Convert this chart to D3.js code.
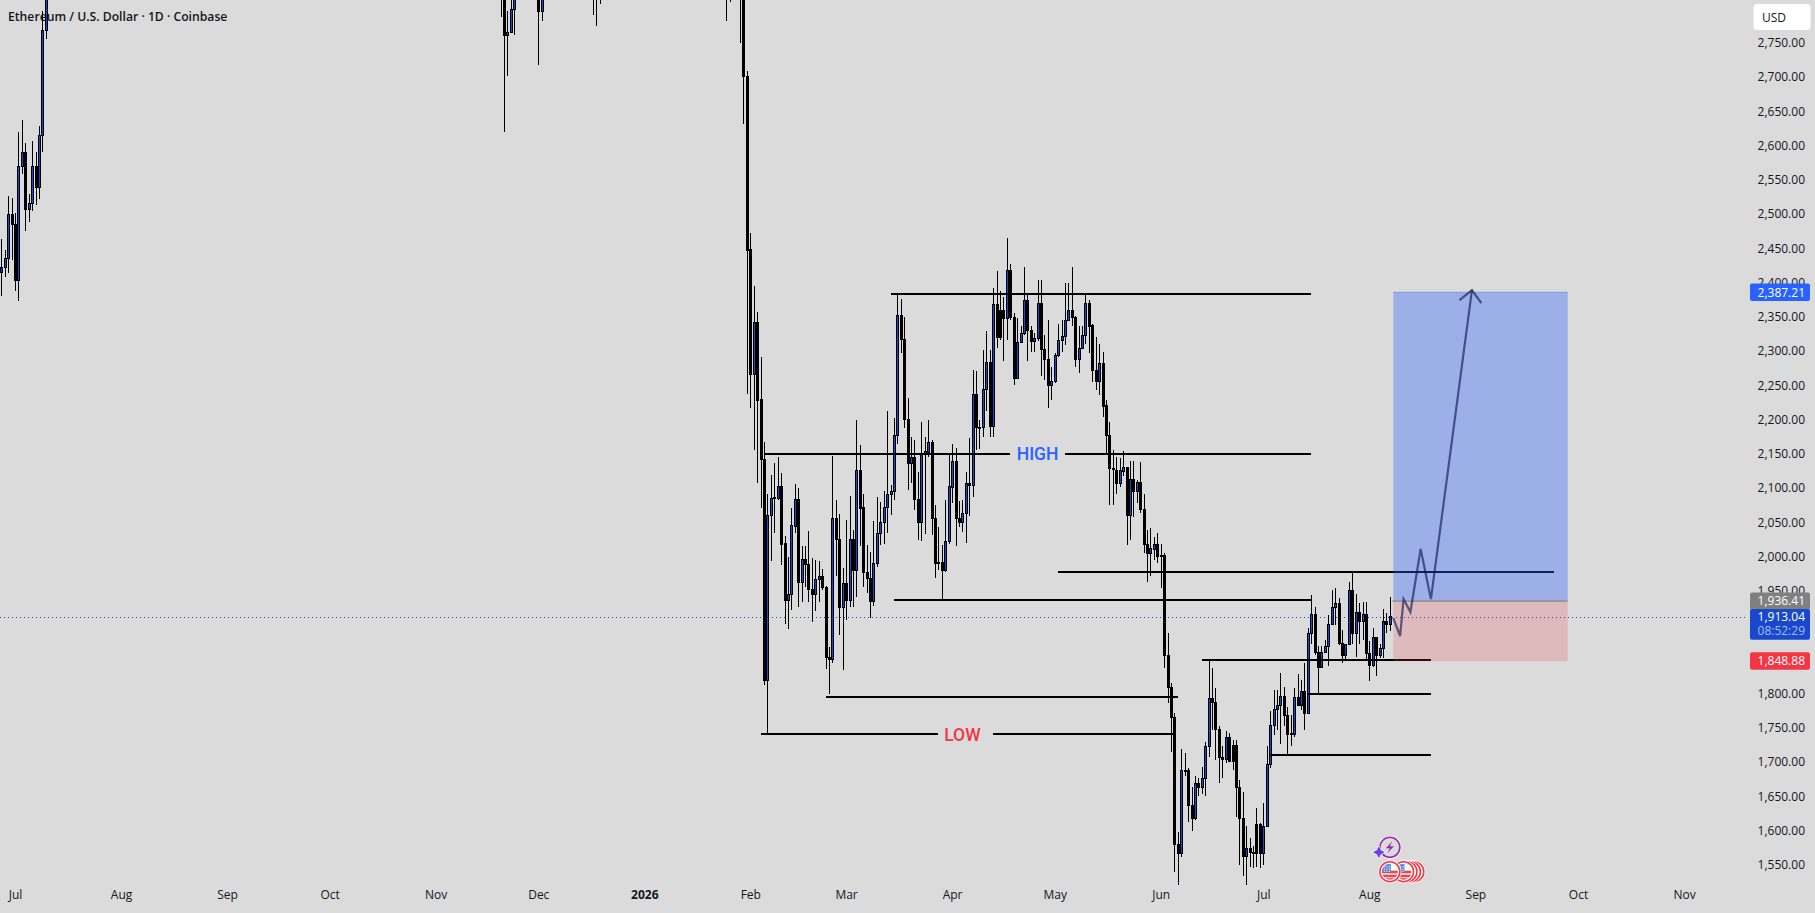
<!DOCTYPE html>
<html>
<head>
<meta charset="utf-8">
<title>ETHUSD 1D</title>
<script src="https://cdn.jsdelivr.net/npm/d3@7"></script>
<style>
  html, body { margin: 0; padding: 0; background: #dbdbdb; overflow: hidden; }
  text { font-family: "Open Sans", sans-serif; fill: #131722; }
</style>
</head>
<body>
<div id="chart"></div>
<script>
// DATA
//=====================
var title = "Ethereum / U.S. Dollar \u00b7 1D \u00b7 Coinbase";

var monthTicks = ["2025-07-01","2025-08-01","2025-09-01","2025-10-01","2025-11-01","2025-12-01","2026-01-01",
  "2026-02-01","2026-03-01","2026-04-01","2026-05-01","2026-06-01","2026-07-01","2026-08-01","2026-09-01","2026-10-01","2026-11-01"];
var priceTicks = [2750,2700,2650,2600,2550,2500,2450,2400,2350,2300,2250,2200,2150,2100,2050,2000,1950,1900,1850,1800,1750,1700,1650,1600,1550];

// only the days that reach into the picture, everything else sits above the top edge
var candleDates = [].concat(
  d3.utcDay.range(new Date("2025-06-27"), new Date("2025-07-11")),
  ["2025-11-20","2025-11-21","2025-11-22","2025-11-23","2025-11-24","2025-12-01","2025-12-02",
   "2025-12-17","2025-12-18","2025-12-19","2026-01-25","2026-01-26"].map(function(d) { return new Date(d); }),
  d3.utcDay.range(new Date("2026-01-29"), new Date("2026-08-08"))
);

var opens = [2416,2422,2436,2500,2485,2403,2570,2590,2507,2516,2570,2540,2615,2768,
  2860,2900,2762,2766,2800,2850,2797,2900,2880,2900,2900,2860,
  2880,2830,2701,2449,2266,2343,2230,2142,1820,2060,
  2087,2086,2103,2020,1937,1945,2045,2084,1963,1996,
  1989,1953,1946,1967,1972,1955,1854,1850,2056,2025,
  1927,1962,1937,2025,1981,2126,2072,1977,1968,1935,
  1991,2035,2051,2072,2091,2095,2177,2352,2317,2201,
  2136,2145,2084,2051,2151,2153,2167,2057,1992,1992,
  1981,2023,2101,2139,2056,2051,2063,2108,2105,2238,
  2189,2189,2244,2284,2190,2369,2360,2360,2348,2418,
  2349,2261,2313,2326,2374,2330,2314,2319,2370,2303,
  2288,2250,2256,2294,2316,2322,2345,2360,2350,2289,
  2305,2324,2370,2338,2273,2256,2282,2221,2178,2129,
  2127,2108,2125,2130,2061,2113,2095,2109,2069,2019,
  2005,2011,2018,2002,2002,1856,1809,1766,1581,1567,
  1688,1688,1637,1618,1670,1663,1677,1723,1793,1788,
  1748,1707,1704,1737,1725,1725,1663,1618,1563,1574,
  1569,1609,1609,1567,1607,1697,1754,1777,1783,1796,
  1768,1742,1741,1795,1783,1803,1772,1889,1916,1861,
  1839,1860,1869,1901,1927,1932,1874,1856,1872,1951,
  1889,1919,1906,1916,1859,1841,1882,1856,1866,1906,
  1901];

var highs = [2464,2448,2526,2523,2502,2620,2638,2603,2530,2606,2590,2629,2797,2995,
  2900,2920,2796,2830,2860,2870,2850,2920,2930,2930,2920,2880,
  2900,2850,2709,2472,2395,2357,2291,2167,2091,2119,
  2136,2146,2122,2030,1999,2071,2106,2100,2015,2015,
  2037,1998,1995,1994,1982,1957,1868,2147,2083,2062,
  1983,2053,2089,2039,2200,2163,2092,2017,2007,2052,
  2087,2079,2095,2212,2104,2202,2382,2376,2349,2232,
  2175,2170,2124,2197,2175,2199,2170,2075,2043,2017,
  2083,2151,2165,2158,2081,2083,2123,2173,2272,2271,
  2200,2301,2329,2302,2392,2417,2387,2379,2465,2427,
  2355,2348,2336,2423,2382,2336,2326,2404,2403,2323,
  2346,2277,2297,2340,2345,2399,2399,2423,2351,2336,
  2336,2383,2375,2339,2321,2311,2299,2229,2196,2156,
  2145,2144,2154,2131,2139,2139,2112,2138,2092,2039,
  2041,2029,2034,2019,2005,1888,1816,1771,1598,1719,
  1713,1692,1664,1679,1676,1693,1730,1848,1837,1808,
  1752,1723,1746,1742,1732,1732,1674,1657,1606,1589,
  1577,1633,1611,1640,1723,1774,1805,1805,1830,1810,
  1781,1769,1808,1829,1820,1844,1895,1944,1926,1869,
  1869,1878,1915,1951,1954,1939,1893,1873,1963,1977,
  1946,1932,1934,1934,1876,1895,1883,1873,1924,1917,
  1941];

var lows = [2381,2408,2414,2433,2387,2373,2558,2475,2488,2504,2513,2522,2590,2756,
  2787,2620,2702,2764,2762,2717,2782,2790,2774,2807,2782,2809,
  2750,2632,2238,2217,2156,2108,2071,1813,1741,1993,
  2034,2083,1987,1901,1894,1922,2034,1927,1934,1956,
  1934,1905,1921,1933,1951,1836,1799,1845,1971,1886,
  1835,1908,1927,1926,1941,2015,1955,1947,1911,1928,
  1985,2017,2018,2034,2061,2083,2165,2297,2187,2097,
  2107,2068,2024,2022,2033,2145,2032,1969,1981,1936,
  1978,2019,2078,2015,2043,2036,2020,2059,2087,2156,
  2157,2175,2212,2175,2174,2304,2316,2285,2316,2346,
  2251,2259,2312,2323,2285,2299,2299,2314,2263,2258,
  2217,2229,2253,2292,2299,2309,2344,2337,2277,2268,
  2304,2310,2297,2255,2243,2236,2204,2151,2075,2075,
  2091,2102,2117,2017,2024,2058,2078,2063,2005,1963,
  1972,1995,1990,1954,1837,1786,1714,1539,1521,1562,
  1679,1612,1600,1615,1650,1654,1651,1708,1747,1703,
  1669,1676,1698,1701,1688,1620,1550,1533,1521,1547,
  1545,1547,1546,1550,1606,1691,1740,1747,1727,1752,
  1712,1723,1736,1782,1776,1747,1771,1873,1856,1800,
  1837,1860,1840,1900,1900,1871,1845,1850,1871,1873,
  1854,1873,1878,1847,1819,1839,1826,1852,1852,1888,
  1892];

var closes = [2423,2436,2500,2485,2403,2570,2590,2507,2516,2570,2540,2615,2768,2950,
  2880,2762,2766,2800,2840,2797,2830,2880,2900,2910,2860,2840,
  2830,2701,2448,2266,2343,2229,2142,1820,2060,2085,
  2085,2103,2019,1937,1945,2046,2084,1963,1996,1989,
  1953,1946,1967,1972,1955,1854,1850,2056,2026,1927,
  1962,1937,2025,1981,2126,2071,1977,1968,1935,1991,
  2035,2050,2072,2091,2095,2177,2352,2317,2201,2136,
  2145,2084,2051,2151,2154,2167,2057,1990,1991,1981,
  2023,2103,2139,2056,2051,2063,2107,2105,2238,2189,
  2188,2244,2284,2190,2369,2321,2321,2348,2418,2349,
  2261,2313,2326,2374,2330,2314,2319,2370,2303,2288,
  2250,2256,2294,2316,2322,2345,2360,2349,2289,2305,
  2324,2370,2337,2273,2256,2282,2220,2178,2129,2128,
  2108,2126,2130,2061,2113,2095,2109,2069,2019,2005,
  2012,2018,2001,2001,1856,1809,1766,1581,1567,1688,
  1687,1637,1618,1670,1663,1677,1723,1793,1788,1748,
  1707,1704,1736,1702,1702,1663,1618,1563,1574,1569,
  1567,1567,1567,1607,1697,1754,1777,1783,1796,1768,
  1741,1741,1795,1783,1803,1772,1889,1916,1861,1839,
  1860,1869,1901,1927,1932,1874,1856,1872,1951,1889,
  1919,1906,1916,1859,1841,1882,1856,1866,1906,1901,
  1913];

// drawn levels: price, first day, last day
var levelPrices = [2383.3, 2149.7, 2149.7, 1936.4, 1977.4, 1849.4, 1800, 1710.3, 1795.4, 1740.5, 1740.5];
var levelStarts = ["2026-03-14","2026-02-05","2026-05-04","2026-03-15","2026-05-02","2026-06-13","2026-07-14","2026-07-03","2026-02-23","2026-02-04","2026-04-13"];
var levelEnds   = ["2026-07-15","2026-04-18","2026-07-15","2026-07-15","2026-09-24","2026-08-19","2026-08-19","2026-08-19","2026-06-06","2026-03-28","2026-06-05"];

var levelNames = ["HIGH", "LOW"];
var levelNameDates = ["2026-04-26", "2026-04-04"];
var levelNamePrices = [2149.7, 1740.5];

var lastPrice = 1913.04;
var countdown = "08:52:29";
var entryPrice = 1936.41;
var targetPrice = 2387.21;
var stopPrice = 1848.88;
var positionStart = "2026-08-08";
var positionEnd = "2026-09-28";

var pathDates  = ["2026-08-08","2026-08-10","2026-08-11","2026-08-13","2026-08-16","2026-08-19","2026-08-31"];
var pathPrices = [1910, 1884, 1938, 1919, 2011, 1938, 2389];

var flagDates = ["2026-08-14","2026-08-13","2026-08-12","2026-08-11","2026-08-07"];

// SCALES
//=====================
var svgWidth = 1815;
var svgHeight = 913;

var xScale = d3.scaleUtc()
  .domain([new Date("2025-07-01"), new Date("2026-11-01")])
  .range([15, 1684]);

var yScale = d3.scaleLinear()
  .domain([2750, 1550])
  .range([42.8, 864.8]);

function dayX(d) { return xScale(new Date(d)); }

// the position tool and its tags sit a pixel under the candle scale in the picture
function positionY(p) { return yScale(p) + 1; }

var svg = d3.select("#chart")
  .append("svg")
  .attr("width", svgWidth)
  .attr("height", svgHeight)
  .style("display", "block");

svg.append("rect")
  .attr("width", svgWidth)
  .attr("height", svgHeight)
  .attr("fill", "#dbdbdb");

// AXES
//=====================
var yAxis = d3.axisRight(yScale)
  .tickValues(priceTicks)
  .tickSize(0)
  .tickPadding(0)
  .tickFormat(d3.format(",.2f"));

var yAxisGroup = svg.append("g")
  .attr("transform", "translate(1805, 0)")
  .call(yAxis);
yAxisGroup.select(".domain").remove();
yAxisGroup.selectAll("text")
  .attr("text-anchor", "end")
  .attr("font-size", 12)
  .style("font-family", '"Open Sans", sans-serif');

var xAxis = d3.axisBottom(xScale)
  .tickValues(monthTicks.map(function(d) { return new Date(d); }))
  .tickSize(0)
  .tickPadding(0)
  .tickFormat(function(d) {
    return d.getUTCMonth() === 0 ? String(d.getUTCFullYear()) : d3.utcFormat("%b")(d);
  });

var xAxisGroup = svg.append("g")
  .attr("transform", "translate(0, 890)")
  .call(xAxis);
xAxisGroup.select(".domain").remove();
xAxisGroup.selectAll("text")
  .attr("font-size", 12)
  .attr("font-weight", function(d) { return d.getUTCMonth() === 0 ? 700 : 400; })
  .style("font-family", '"Open Sans", sans-serif');

// CURRENT PRICE LINE
//=====================
svg.append("line")
  .attr("x1", 0)
  .attr("x2", 1748)
  .attr("y1", Math.ceil(yScale(lastPrice)) + 0.5)
  .attr("y2", Math.ceil(yScale(lastPrice)) + 0.5)
  .attr("stroke", "#1848cc")
  .attr("stroke-width", 1)
  .attr("stroke-dasharray", "1 3");

// CANDLES
//=====================
var candles = candleDates.map(function(d, i) {
  return { date: d, open: opens[i], high: highs[i], low: lows[i], close: closes[i] };
});

var candleGroup = svg.append("g").attr("shape-rendering", "crispEdges");

var candle = candleGroup.selectAll("g")
  .data(candles)
  .enter()
  .append("g")
  .attr("transform", function(d) { return "translate(" + Math.round(xScale(d.date)) + ",0)"; });

candle.append("line")
  .attr("x1", 0.5)
  .attr("x2", 0.5)
  .attr("y1", function(d) { return yScale(d.high); })
  .attr("y2", function(d) { return yScale(d.low); })
  .attr("stroke", "#000");

candle.append("rect")
  .attr("x", -0.5)
  .attr("width", 2)
  .attr("y", function(d) { return Math.round(yScale(Math.max(d.open, d.close))) + 0.5; })
  .attr("height", function(d) {
    return Math.max(1, Math.round(yScale(Math.min(d.open, d.close))) - Math.round(yScale(Math.max(d.open, d.close))));
  })
  .attr("fill", function(d) { return d.close >= d.open ? "#1848cc" : "#000"; })
  .attr("stroke", "#000");

// LEVELS
//=====================
var levelIndex = d3.range(levelPrices.length);

svg.append("g")
  .selectAll("line")
  .data(levelIndex)
  .enter()
  .append("line")
  .attr("x1", function(i) { return dayX(levelStarts[i]); })
  .attr("x2", function(i) { return dayX(levelEnds[i]); })
  .attr("y1", function(i) { return Math.round(yScale(levelPrices[i])); })
  .attr("y2", function(i) { return Math.round(yScale(levelPrices[i])); })
  .attr("stroke", "#000")
  .attr("stroke-width", 2)
  .attr("shape-rendering", "crispEdges");

svg.append("g")
  .selectAll("text")
  .data(levelNames)
  .enter()
  .append("text")
  .attr("x", function(d, i) { return dayX(levelNameDates[i]); })
  .attr("y", function(d, i) { return yScale(levelNamePrices[i]); })
  .attr("dy", "0.36em")
  .attr("text-anchor", "middle")
  .attr("font-size", 17.5)
  .attr("font-weight", 500)
  .style("font-family", "Roboto, sans-serif")
  .style("fill", function(d) { return d === "HIGH" ? "#2962ff" : "#f23645"; })
  .text(function(d) { return d; });

// LONG POSITION
//=====================
var posX0 = dayX(positionStart);
var posX1 = dayX(positionEnd);

svg.append("rect")
  .attr("x", posX0)
  .attr("width", posX1 - posX0)
  .attr("y", positionY(targetPrice))
  .attr("height", positionY(entryPrice) - positionY(targetPrice))
  .attr("fill", "#2962ff")
  .attr("fill-opacity", 0.35);

svg.append("rect")
  .attr("x", posX0)
  .attr("width", posX1 - posX0)
  .attr("y", positionY(entryPrice))
  .attr("height", positionY(stopPrice) - positionY(entryPrice))
  .attr("fill", "#f23645")
  .attr("fill-opacity", 0.2);

svg.append("line")
  .attr("x1", posX0)
  .attr("x2", posX1)
  .attr("y1", positionY(targetPrice))
  .attr("y2", positionY(targetPrice))
  .attr("stroke", "#2962ff")
  .attr("stroke-opacity", 0.4)
  .attr("stroke-width", 1);

svg.append("line")
  .attr("x1", posX0 - 1)
  .attr("x2", posX1)
  .attr("y1", positionY(entryPrice))
  .attr("y2", positionY(entryPrice))
  .attr("stroke", "#787b86")
  .attr("stroke-width", 1);

// forecast path with arrow head
var pathLine = d3.line()
  .x(function(d, i) { return dayX(pathDates[i]); })
  .y(function(d) { return yScale(d); });

svg.append("path")
  .attr("d", pathLine(pathPrices))
  .attr("fill", "none")
  .attr("stroke", "#0a1550")
  .attr("stroke-opacity", 0.62)
  .attr("stroke-width", 2.2)
  .attr("stroke-linejoin", "miter");

var last = pathDates.length - 1;
var tipX = dayX(pathDates[last]);
var tipY = yScale(pathPrices[last]);
var backAngle = Math.atan2(yScale(pathPrices[last - 1]) - tipY, dayX(pathDates[last - 1]) - tipX);
var wing = function(a) { return (tipX + 16 * Math.cos(a)) + "," + (tipY + 16 * Math.sin(a)); };

svg.append("path")
  .attr("d", "M" + wing(backAngle + 0.76) + "L" + tipX + "," + tipY + "L" + wing(backAngle - 0.76))
  .attr("fill", "none")
  .attr("stroke", "#0a1550")
  .attr("stroke-opacity", 0.62)
  .attr("stroke-width", 2.2);

// PRICE TAGS
//=====================
function priceTag(price, color) {
  var y = positionY(price);
  svg.append("rect")
    .attr("x", 1750)
    .attr("y", y - 8.7)
    .attr("width", 60)
    .attr("height", 17.4)
    .attr("rx", 2)
    .attr("fill", color);
  svg.append("text")
    .attr("x", 1805)
    .attr("y", y)
    .attr("dy", "0.35em")
    .attr("text-anchor", "end")
    .attr("font-size", 12)
    .attr("font-weight", 500)
    .style("fill", "#fff")
    .text(d3.format(",.2f")(price));
}

priceTag(targetPrice, "#2962ff");
priceTag(entryPrice, "#808080");
priceTag(stopPrice, "#f23645");

var lastY = yScale(lastPrice);
svg.append("rect")
  .attr("x", 1750)
  .attr("y", lastY - 7)
  .attr("width", 60)
  .attr("height", 30.7)
  .attr("rx", 2)
  .attr("fill", "#1848cc");
svg.append("text")
  .attr("x", 1805)
  .attr("y", lastY + 1)
  .attr("dy", "0.35em")
  .attr("text-anchor", "end")
  .attr("font-size", 12)
  .attr("font-weight", 500)
  .style("fill", "#fff")
  .text(d3.format(",.2f")(lastPrice));
svg.append("text")
  .attr("x", 1805)
  .attr("y", lastY + 15)
  .attr("dy", "0.35em")
  .attr("text-anchor", "end")
  .attr("font-size", 12)
  .attr("font-weight", 500)
  .style("fill", "#a9bcf0")
  .text(countdown);

// USD button
svg.append("rect")
  .attr("x", 1753.5)
  .attr("y", 4)
  .attr("width", 57)
  .attr("height", 26)
  .attr("rx", 4)
  .attr("fill", "#fff");
svg.append("text")
  .attr("x", 1762)
  .attr("y", 17.5)
  .attr("dy", "0.35em")
  .attr("font-size", 12)
  .text("USD");

// TITLE
//=====================
svg.append("text")
  .attr("x", 8)
  .attr("y", 16.5)
  .attr("dy", "0.35em")
  .attr("font-size", 12.2)
  .attr("font-weight", 600)
  .text(title);

// EVENT ICONS
//=====================
var defs = svg.append("defs");
defs.append("clipPath").attr("id", "flagClip").append("circle").attr("r", 8);

var flagY = 871.7;
var flags = svg.append("g")
  .selectAll("g")
  .data(flagDates)
  .enter()
  .append("g")
  .attr("transform", function(d) { return "translate(" + dayX(d) + "," + flagY + ")"; });

flags.append("circle").attr("r", 11.5).attr("fill", "#fff");
flags.append("circle").attr("r", 10).attr("fill", "#fff").attr("stroke", "#f23645").attr("stroke-width", 1.5);

var flagInner = flags.append("g").attr("clip-path", "url(#flagClip)");
flagInner.append("rect").attr("x", -8).attr("y", -8).attr("width", 16).attr("height", 16).attr("fill", "#fff");
flagInner.selectAll(".stripe")
  .data([-1, 3, 6.5])
  .enter()
  .append("rect")
  .attr("class", "stripe")
  .attr("x", -8)
  .attr("width", 16)
  .attr("y", function(d) { return d; })
  .attr("height", 2.6)
  .attr("fill", "#f2444f");
flagInner.append("rect").attr("x", -8).attr("y", -8).attr("width", 9).attr("height", 8).attr("fill", "#5b8fe0");
flagInner.selectAll(".star")
  .data(d3.cross([-6, -3.5, -1], [-5.5, -3, -0.8]))
  .enter()
  .append("rect")
  .attr("class", "star")
  .attr("x", function(d) { return d[0]; })
  .attr("y", function(d) { return d[1]; })
  .attr("width", 1)
  .attr("height", 1)
  .attr("fill", "#fff");

var bolt = svg.append("g").attr("transform", "translate(" + dayX("2026-08-07") + ",847.3)");
bolt.append("circle").attr("r", 11.5).attr("fill", "#fff");
bolt.append("circle").attr("r", 10).attr("fill", "#dbdbdb").attr("stroke", "#9c27b0").attr("stroke-width", 1.6);
bolt.append("path")
  .attr("d", "M2.5,-6L-4,1L0,1L-2.5,6L4,-1L0,-1Z")
  .attr("fill", "#9c27b0");
bolt.append("path")
  .attr("d", "M-11,-1L-9,3L-5,5L-9,7L-11,11L-13,7L-17,5L-13,3Z")
  .attr("fill", "#6a3df0")
  .attr("stroke", "#fff")
  .attr("stroke-width", 1.2)
  .attr("paint-order", "stroke");
</script>
</body>
</html>
